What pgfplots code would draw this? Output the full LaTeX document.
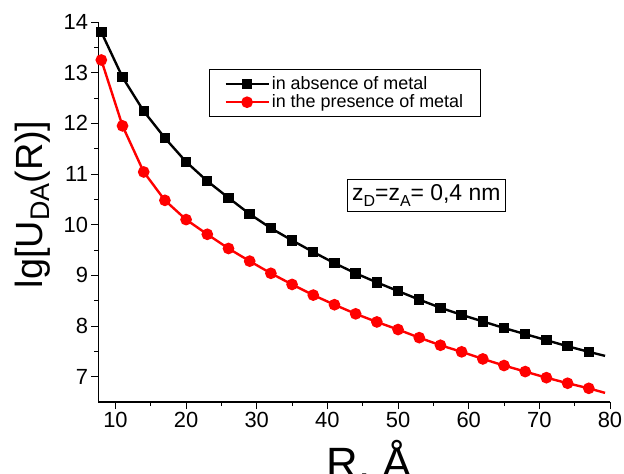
\documentclass[border=0pt]{standalone}
\usepackage{fontspec}
\setmainfont{Liberation Sans}
\usepackage{pgfplots}
\pgfplotsset{compat=1.18}
\pgfplotstableread{
R black red
8 13.80 13.25
11 12.91 11.95
14 12.24 11.04
17 11.71 10.48
20 11.24 10.10
23 10.86 9.81
26 10.53 9.53
29 10.21 9.28
32 9.93 9.04
35 9.69 8.82
38 9.46 8.61
41 9.24 8.42
44 9.04 8.24
47 8.86 8.08
50 8.69 7.93
53 8.52 7.77
56 8.36 7.62
59 8.22 7.49
62 8.09 7.35
65 7.96 7.22
68 7.84 7.10
71 7.72 6.98
74 7.60 6.87
77 7.49 6.77
79.3 7.41 6.68
}\datatable
\begin{document}
\begin{tikzpicture}
\begin{axis}[
  scale only axis,
  width=511.5bp, height=380bp,
  xmin=7.6, xmax=80, ymin=6.5, ymax=14,
  axis x line*=bottom, axis y line*=left,
  axis line style={line width=1.2bp},
  xtick={10,20,...,80}, ytick={7,8,...,14},
  minor x tick num=1, minor y tick num=1,
  tick align=outside,
  major tick length=7bp, minor tick length=4bp,
  every tick/.style={line width=1bp, black},
  /pgf/number format/assume math mode=true,
  tick label style={font=\fontsize{22}{22}\selectfont},
  xlabel={R, Å},
  x label style={font=\fontsize{44}{44}\selectfont, at={(axis description cs:0.53,0)}, anchor=north, yshift=-38bp, inner sep=0pt},
  ylabel={lg[U\raisebox{-0.38ex}{\fontsize{27}{27}\selectfont DA}(R)]},
  y label style={font=\fontsize{38}{38}\selectfont, at={(axis description cs:-0.094,0.52)}, anchor=south, inner sep=0pt},
  legend style={at={(rel axis cs:0.216,0.876)}, anchor=north west, draw=black, line width=0.8bp,
    font=\fontsize{18}{21.3}\selectfont, inner xsep=15bp, inner ysep=5bp, row sep=0bp},
  legend cell align=left,
  legend image code/.code={\draw[mark indices={2}] plot coordinates {(0bp,0bp) (21.5bp,0bp) (43bp,0bp)};},
]
\addplot[black, line width=2.4bp, mark=square*, mark size=4bp, mark options={solid}, mark indices={1,...,24}] table[x=R,y=black]{\datatable};
\addlegendentry{in absence of metal}
\addplot[red, line width=2.4bp, mark=*, mark size=4.6bp, mark options={solid}, mark indices={1,...,24}] table[x=R,y=red]{\datatable};
\addlegendentry{in the presence of metal}
\node[draw=black, line width=0.8bp, font=\fontsize{23}{23}\selectfont, inner xsep=5bp, inner ysep=5bp] at (axis cs:54.0,10.58) {z\raisebox{-0.45ex}{\fontsize{16}{16}\selectfont D}=z\raisebox{-0.45ex}{\fontsize{16}{16}\selectfont A}= 0,4 nm};
\end{axis}
\pgfresetboundingbox
\useasboundingbox (-98.5bp,-72bp) rectangle (525.5bp,402bp);
\end{tikzpicture}
\end{document}
